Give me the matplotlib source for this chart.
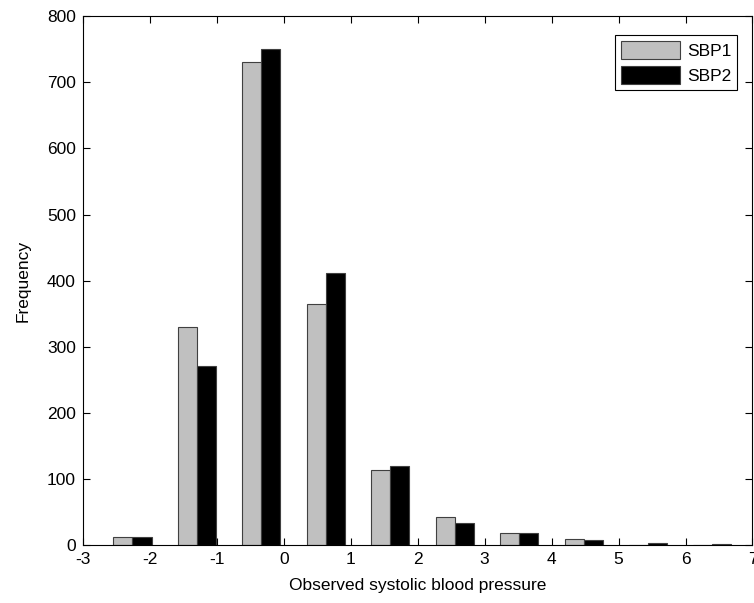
import numpy as np
import matplotlib
matplotlib.use("Agg")
import matplotlib.pyplot as plt

# histogram bin centres and counts
centers = np.array([-2.26, -1.30, -0.34, 0.63, 1.59, 2.55, 3.51, 4.48, 5.44, 6.40])
sbp1 = np.array([12, 330, 731, 365, 114, 42, 18, 10, 0, 0])
sbp2 = np.array([12, 271, 751, 412, 119, 33, 18, 7, 3, 2])
labels = ["SBP1", "SBP2"]

plt.rcParams["font.family"] = ["Liberation Sans", "DejaVu Sans"]
plt.rcParams["font.size"] = 12.5
plt.rcParams["axes.unicode_minus"] = False

fig = plt.figure(figsize=(7.54, 6.03), dpi=100)
ax = fig.add_axes([0.110, 0.096, 0.888, 0.877])

w = 0.284
ax.bar(centers - w, sbp1, width=w, align="edge", color="#c0c0c0",
       edgecolor="0.25", lw=0.8, label=labels[0], zorder=2)
ax.bar(centers, sbp2, width=w, align="edge", color="black",
       edgecolor="0.25", lw=0.8, label=labels[1], zorder=2)

ax.set_xlim(-3, 7)
ax.set_ylim(0, 800)
ax.set_xticks(np.arange(-3, 8, 1))
ax.set_yticks(np.arange(0, 801, 100))
ax.tick_params(direction="in", length=5, width=0.8, top=True, right=True,
               labelsize=12.5, pad=5)
for s in ax.spines.values():
    s.set_linewidth(0.8)

ax.set_xlabel("Observed systolic blood pressure", fontsize=12.5, labelpad=8)
ax.set_ylabel("Frequency", fontsize=12.5, labelpad=12)

leg = ax.legend(loc="upper right", bbox_to_anchor=(0.989, 0.956),
                bbox_transform=fig.transFigure, fancybox=False, framealpha=1,
                edgecolor="black", handlelength=3.4, handleheight=1.2,
                labelspacing=0.43, borderpad=0.33, handletextpad=0.4,
                fontsize=12.5)
leg.get_frame().set_linewidth(0.8)

fig.savefig("out.png", dpi=100)
